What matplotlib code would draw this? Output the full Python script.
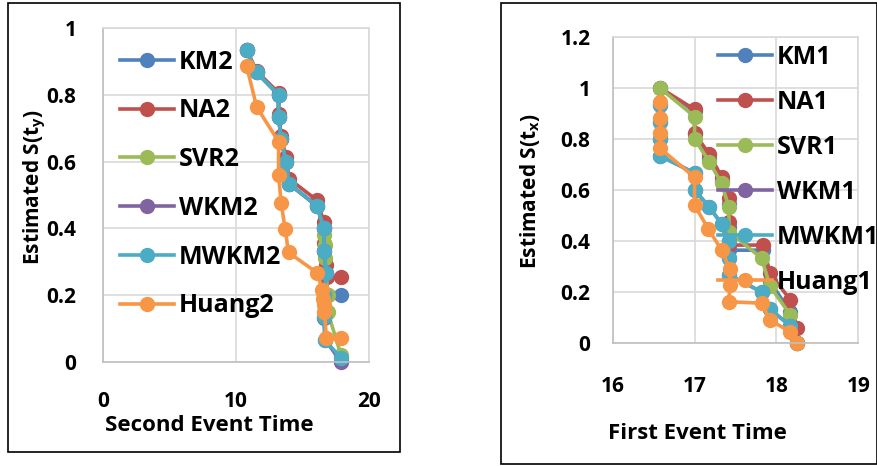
import matplotlib
matplotlib.use("Agg")
import matplotlib.pyplot as plt
from matplotlib.patches import Rectangle

plt.rcParams['font.family'] = ['Open Sans', 'DejaVu Sans']
plt.rcParams['font.weight'] = 'bold'
plt.rcParams['mathtext.fontset'] = 'custom'
plt.rcParams['mathtext.rm'] = 'Open Sans:bold'
plt.rcParams['mathtext.bf'] = 'Open Sans:bold'
plt.rcParams['mathtext.it'] = 'Open Sans:bold'

# ---- left panel: second event time ----
names2 = ["KM2", "NA2", "SVR2", "WKM2", "MWKM2", "Huang2"]
km2_x = [10.8, 11.55, 13.2, 13.2, 13.4, 13.75, 14.0, 16.1, 16.6, 16.6, 16.8, 16.9, 17.9]
km2_y = [0.933, 0.867, 0.8, 0.733, 0.667, 0.6, 0.533, 0.467, 0.4, 0.333, 0.267, 0.2, 0.2]
na2_x = [10.8, 11.55, 13.2, 13.2, 13.4, 13.75, 14.0, 16.1, 16.6, 16.6, 16.8, 16.85, 17.9]
na2_y = [0.935, 0.871, 0.806, 0.742, 0.677, 0.613, 0.548, 0.484, 0.419, 0.355, 0.29, 0.255, 0.255]
svr2_x = [10.8, 11.55, 13.2, 13.2, 13.4, 13.75, 14.0, 16.1, 16.6, 16.65, 16.7, 16.7, 16.9, 16.9, 17.9]
svr2_y = [0.933, 0.867, 0.8, 0.733, 0.667, 0.6, 0.533, 0.467, 0.4, 0.38, 0.35, 0.31, 0.2, 0.15, 0.02]
wkm2_x = [10.8, 11.55, 13.2, 13.2, 13.4, 13.75, 14.0, 16.1, 16.6, 16.6, 16.8, 16.6, 16.6, 16.7, 17.9]
wkm2_y = [0.933, 0.867, 0.8, 0.733, 0.667, 0.6, 0.533, 0.467, 0.4, 0.333, 0.267, 0.2, 0.133, 0.067, 0.0]
mwkm2_x = [10.8, 11.55, 13.2, 13.2, 13.4, 13.75, 14.0, 16.1, 16.6, 16.6, 16.8, 16.6, 16.6, 16.7, 17.9]
mwkm2_y = [0.933, 0.867, 0.8, 0.733, 0.667, 0.6, 0.533, 0.467, 0.4, 0.333, 0.267, 0.2, 0.136, 0.066, 0.011]
huang2_x = [10.8, 11.55, 13.2, 13.2, 13.4, 13.7, 13.95, 16.1, 16.5, 16.55, 16.6, 16.65, 16.8, 17.9]
huang2_y = [0.886, 0.764, 0.66, 0.56, 0.475, 0.397, 0.328, 0.267, 0.215, 0.19, 0.17, 0.15, 0.071, 0.071]

# ---- right panel: first event time ----
names1 = ["KM1", "NA1", "SVR1", "WKM1", "MWKM1", "Huang1"]
km1_x = [16.58, 17.0, 17.0, 17.18, 17.33, 17.42, 17.42, 17.42, 17.84, 17.92, 18.17, 18.25]
km1_y = [1.0, 0.909, 0.818, 0.727, 0.636, 0.545, 0.455, 0.364, 0.364, 0.242, 0.121, 0.0]
na1_x = [16.58, 17.0, 17.0, 17.18, 17.33, 17.42, 17.42, 17.42, 17.84, 17.92, 18.17, 18.25]
na1_y = [1.0, 0.916, 0.822, 0.741, 0.652, 0.567, 0.476, 0.384, 0.384, 0.273, 0.169, 0.058]
svr1_x = [16.58, 17.0, 17.0, 17.18, 17.33, 17.42, 17.42, 17.82, 17.92, 18.17, 18.25]
svr1_y = [0.999, 0.888, 0.80, 0.711, 0.626, 0.532, 0.437, 0.332, 0.224, 0.11, 0.0]
wkm1_x = [16.58, 16.58, 16.58, 16.58, 17.0, 17.0, 17.18, 17.33, 17.42, 17.42, 17.42, 17.82, 17.92, 18.17, 18.25]
wkm1_y = [0.933, 0.867, 0.8, 0.733, 0.667, 0.6, 0.533, 0.467, 0.4, 0.333, 0.267, 0.2, 0.133, 0.067, 0.0]
mwkm1_x = [16.58, 16.58, 16.58, 16.58, 17.0, 17.0, 17.18, 17.33, 17.42, 17.42, 17.42, 17.82, 17.92, 18.17, 18.25]
mwkm1_y = [0.933, 0.867, 0.8, 0.733, 0.667, 0.6, 0.533, 0.467, 0.4, 0.333, 0.267, 0.2, 0.133, 0.067, 0.0]
huang1_x = [16.58, 16.58, 16.58, 16.58, 17.0, 17.0, 17.17, 17.33, 17.43, 17.43, 17.42, 17.82, 17.92, 18.17, 18.25]
huang1_y = [0.946, 0.881, 0.822, 0.763, 0.65, 0.541, 0.446, 0.365, 0.289, 0.227, 0.162, 0.156, 0.09, 0.044, 0.0]

colors = ["#4F81BD", "#C0504D", "#9BBB59", "#8064A2", "#4BACC6", "#F79646"]

W, H = 878, 466
fig = plt.figure(figsize=(W / 100, H / 100), dpi=100)

# chart area borders
fig.patches.append(Rectangle((8 / W, 1 - 452 / H), 392 / W, 449 / H, transform=fig.transFigure,
                             fill=False, edgecolor="black", linewidth=1.2))
fig.patches.append(Rectangle((501 / W, 1 - 464 / H), 376 / W, 461 / H, transform=fig.transFigure,
                             fill=False, edgecolor="black", linewidth=1.2))

ax1 = fig.add_axes([103 / W, 1 - 362 / H, 266 / W, 334 / H])
ax2 = fig.add_axes([612.7 / W, 1 - 343 / H, 245.6 / W, 306 / H])


def style(ax):
    ax.grid(True, color="#D9D9D9", linewidth=1.2)
    ax.set_axisbelow(True)
    for s in ax.spines.values():
        s.set_color("#D9D9D9")
        s.set_linewidth(1.2)
    ax.spines["left"].set_color("#BFBFBF")
    ax.spines["bottom"].set_color("#BFBFBF")
    ax.tick_params(length=0, labelsize=15)


def fmt(v):
    return ("%g" % v)


series2 = [(km2_x, km2_y), (na2_x, na2_y), (svr2_x, svr2_y), (wkm2_x, wkm2_y), (mwkm2_x, mwkm2_y), (huang2_x, huang2_y)]
for (x, y), n, c in zip(series2, names2, colors):
    ax1.plot(x, y, color=c, marker="o", markersize=10, linewidth=2.6, label=n, clip_on=False)
style(ax1)
ax1.set_xlim(0, 20)
ax1.set_ylim(0, 1)
ax1.set_xticks([0, 10, 20])
ax1.set_yticks([0, 0.2, 0.4, 0.6, 0.8, 1.0])
ax1.set_yticklabels([fmt(v) for v in [0, 0.2, 0.4, 0.6, 0.8, 1.0]])
ax1.tick_params(axis="y", pad=19)
ax1.tick_params(axis="x", pad=21)
ax1.set_xlabel("Second Event Time", fontsize=16, fontweight="bold")
ax1.xaxis.set_label_coords((209 - 103) / 266, (362 - 415) / 334)
ax1.set_ylabel("Estimated S(t$_\\mathbf{y}$)", fontsize=15, fontweight="bold")
ax1.yaxis.set_label_coords((48 - 103) / 266, (362 - 187) / 334)
ax1.legend(loc="upper left", bbox_to_anchor=(0.064, 0.935), frameon=False, fontsize=18,
           handlelength=2.15, handletextpad=0.2, labelspacing=0.95, borderpad=0, borderaxespad=0,
           numpoints=1)

series1 = [(km1_x, km1_y), (na1_x, na1_y), (svr1_x, svr1_y), (wkm1_x, wkm1_y), (mwkm1_x, mwkm1_y), (huang1_x, huang1_y)]
for (x, y), n, c in zip(series1, names1, colors):
    ax2.plot(x, y, color=c, marker="o", markersize=10, linewidth=2.6, label=n, clip_on=False)
style(ax2)
ax2.set_xlim(16, 19)
ax2.set_ylim(0, 1.2)
ax2.set_xticks([16, 17, 18, 19])
ax2.set_yticks([0, 0.2, 0.4, 0.6, 0.8, 1.0, 1.2])
ax2.set_yticklabels([fmt(v) for v in [0, 0.2, 0.4, 0.6, 0.8, 1.0, 1.2]])
ax2.tick_params(axis="y", pad=16)
ax2.tick_params(axis="x", pad=24)
ax2.set_xlabel("First Event Time", fontsize=16, fontweight="bold")
ax2.xaxis.set_label_coords((697 - 612.7) / 245.6, (343 - 423) / 306)
ax2.set_ylabel("Estimated S(t$_\\mathbf{x}$)", fontsize=15, fontweight="bold")
ax2.yaxis.set_label_coords((542 - 612.7) / 245.6, (343 - 191) / 306)
ax2.legend(loc="upper left", bbox_to_anchor=(0.429, 0.975), frameon=False, fontsize=18,
           handlelength=2.15, handletextpad=0.2, labelspacing=0.8, borderpad=0, borderaxespad=0,
           numpoints=1)

fig.savefig("out.png", dpi=100)
